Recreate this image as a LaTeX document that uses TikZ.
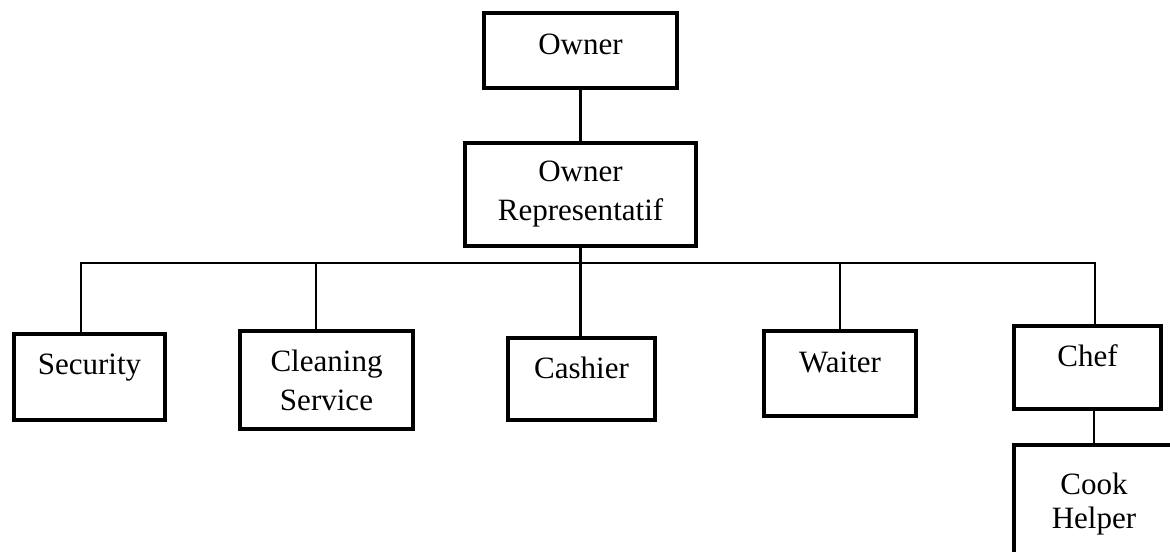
\documentclass[tikz,border=0pt]{standalone}
\usepackage{fontspec}
\setmainfont{Liberation Serif}
\begin{document}
\begin{tikzpicture}[
  x=0.0128cm, y=-0.0128cm,
  box/.style={draw, line width=1.5pt, inner sep=0pt, align=center,
    font=\fontsize{11.3}{14.2}\selectfont},
  single/.style={text height=7.5pt, text depth=#1},
  single/.default=8.5pt,
  link/.style={line width=0.75pt}
]
\clip (0,0) rectangle (1170,551);
% top levels
\node[box, single=4.9pt, minimum width=2.470cm, minimum height=0.960cm] (owner) at (580.5,50.5) {Owner};
\node[box, minimum width=2.957cm, minimum height=1.318cm] (rep) at (580.5,194.5) {Owner\\Representatif};
% staff row
\node[box, single=9.6pt, minimum width=1.933cm, minimum height=1.101cm] (sec) at (89.5,377) {Security};
\node[box, minimum width=2.214cm, minimum height=1.254cm] (clean) at (326.5,380) {Cleaning\\Service};
\node[box, single=8.2pt, minimum width=1.882cm, minimum height=1.050cm] (cash) at (581.5,379) {Cashier};
\node[box, single, minimum width=1.946cm, minimum height=1.088cm] (wait) at (840,373.5) {Waiter};
\node[box, single, minimum width=1.882cm, minimum height=1.062cm] (chef) at (1087.5,367.5) {Chef};
\node[box, font=\fontsize{11.3}{12.4}\selectfont, minimum width=2.048cm, minimum height=1.510cm] (cook) at (1094,504) {Cook\\Helper};
% connectors
\coordinate (bus) at (580,263);
\draw[link] (owner) -- (rep);
\draw[link] (rep.south) -- (rep.south |- cash.north);
\draw[link] ([xshift=-0.109cm]sec.north) |- ([xshift=0.096cm]chef.north |- bus) -- ([xshift=0.096cm]chef.north);
\draw[link] ([xshift=-0.134cm]clean.north) -- ([xshift=-0.134cm]clean.north |- bus);
\draw[link] (wait.north) -- (wait.north |- bus);
\draw[link] (cook.north) -- (cook.north |- chef.south);
\end{tikzpicture}
\end{document}
